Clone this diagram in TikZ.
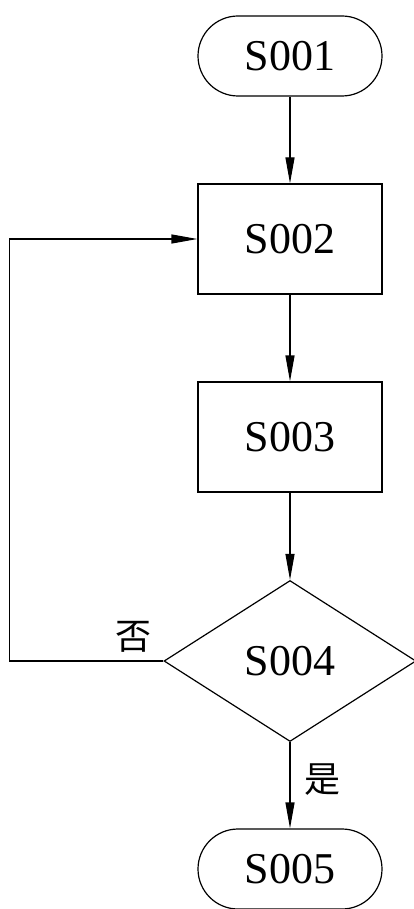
\documentclass[tikz,border=0pt]{standalone}
\usepackage{fontspec}
\setmainfont{Liberation Serif}
\newfontfamily\cjk{Noto Sans CJK TC}
\usetikzlibrary{positioning,arrows.meta,shapes.geometric}

\begin{document}
\begin{tikzpicture}[
  x=1pt, y=1pt,
  line width=1.2pt,
  every node/.style={font=\fontsize{44}{50}\selectfont},
  terminal/.style={rectangle, draw, rounded corners=40pt, minimum width=184pt, minimum height=80pt, inner sep=0pt},
  process/.style={rectangle, draw, minimum width=184pt, minimum height=110pt, inner sep=0pt},
  decision/.style={diamond, draw, minimum width=252pt, minimum height=161pt, inner sep=0pt},
  flow/.style={-{Triangle[length=26pt,width=9pt]}},
  tag/.style={font=\cjk\fontsize{36}{40}\selectfont}
]
\useasboundingbox (0,0) rectangle (413,-909);
% Main column
\node[terminal] (s001) at (290,-56) {S001};
\node[process] (s002) at (290,-239) {S002};
\node[process] (s003) at (290,-437) {S003};
\node[decision] (s004) at (290,-661) {S004};
\node[terminal] (s005) at (290,-869) {S005};
% Forward arrows
\draw[flow] (s001) -- (s002);
\draw[flow] (s002) -- (s003);
\draw[flow] (s003) -- (s004);
\draw[flow] (s004) -- (s005);
% Loop back on "no"
\coordinate (back) at (9.5,-661);
\draw[flow] (s004.west) -- (back) |- (s002.west);
% Branch labels
\node[tag] (no) at (133,-637) {否};
\node[tag] (yes) at (322,-780) {是};
\end{tikzpicture}
\end{document}
